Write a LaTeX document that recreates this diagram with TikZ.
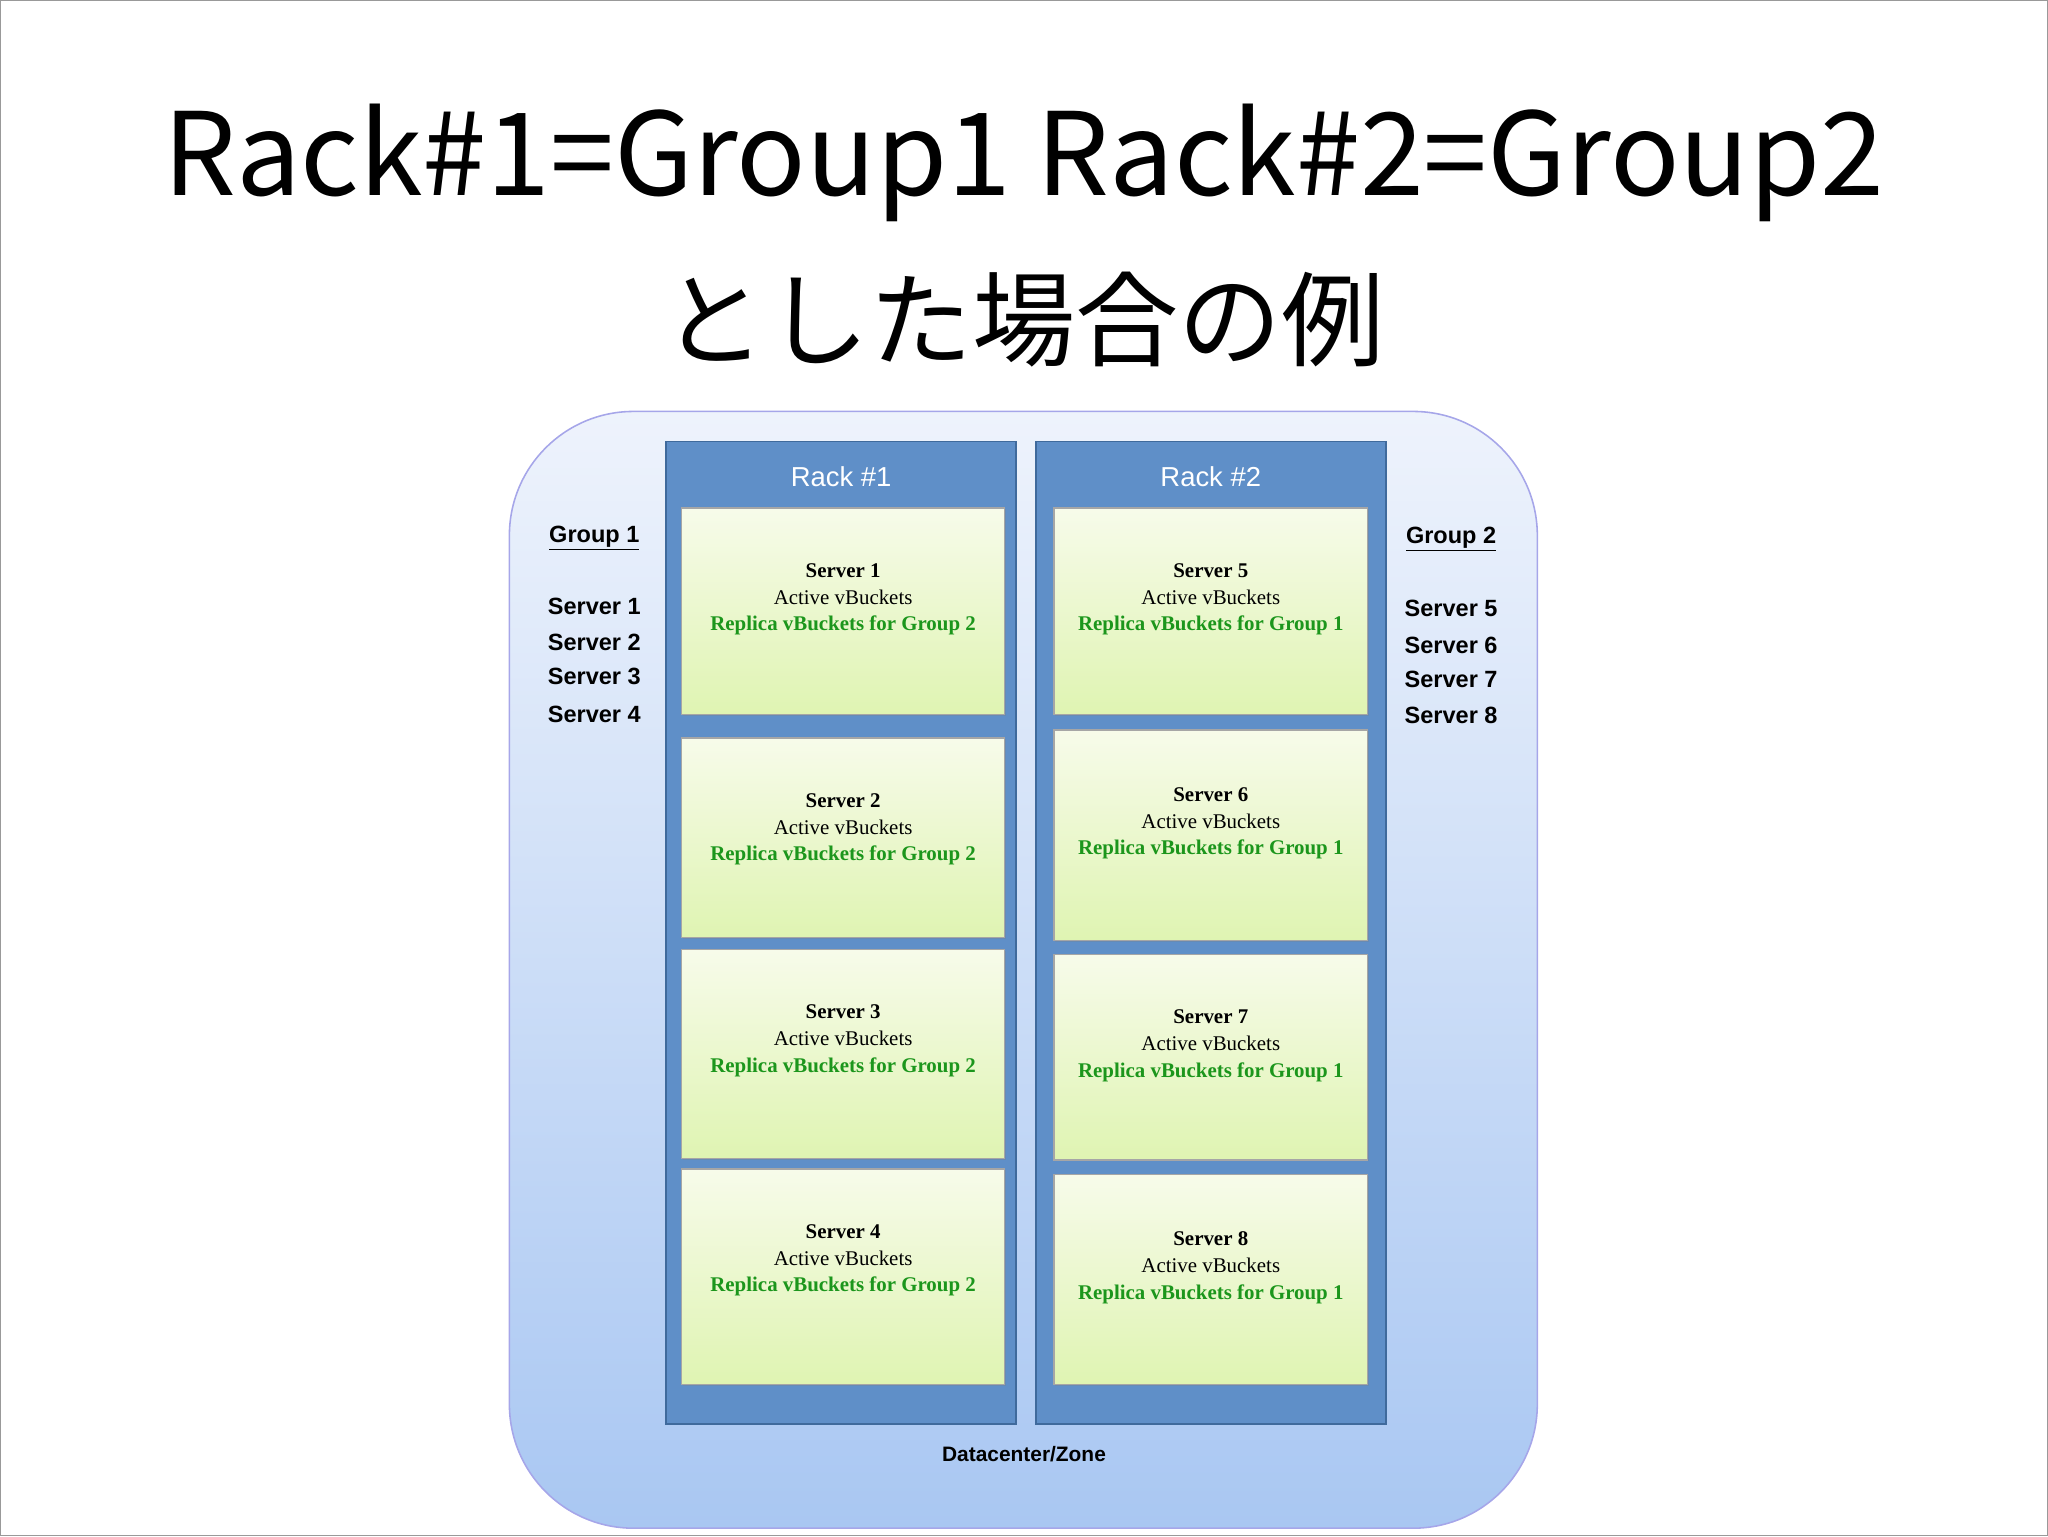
\documentclass[tikz,border=0pt]{standalone}
\usepackage{fontspec}
\setmainfont{Liberation Serif}
\newfontfamily\tfont{Noto Sans CJK JP}
\newfontfamily\sfont{Liberation Sans}
\usetikzlibrary{shadows}
\definecolor{rackc}{HTML}{5F8FC8}
\definecolor{rackb}{HTML}{3F6A9C}
\definecolor{gr}{HTML}{1C961C}
\definecolor{stop}{HTML}{F7FBEA}
\definecolor{sbot}{HTML}{DFF4B2}
\definecolor{otop}{HTML}{EEF3FC}
\definecolor{obot}{HTML}{A9C7F2}
\tikzset{
 rack/.style={draw=rackb,line width=1.5pt,fill=rackc},
 srv/.style={draw=black!35,line width=1pt,top color=stop,bottom color=sbot,drop shadow={shadow xshift=1pt,shadow yshift=-1pt,opacity=0.3}},
 lbl/.style={font=\sfont\bfseries\fontsize{18}{20}\selectfont,anchor=center},
 stxt/.style={align=center,font=\fontsize{16}{20.5}\selectfont},
}
\newcommand{\srvtext}[2]{\textbf{Server #1}\\Active vBuckets\\\textcolor{gr}{\textbf{Replica vBuckets for Group #2}}}
\begin{document}
\begin{tikzpicture}[x=1pt,y=-1pt]
\useasboundingbox (0,0) rectangle (1568,1176);
\draw[black!40,line width=1pt] (0.5,0.5) rectangle (1567.5,1175.5);
\node (t1) at (784,125) {\tfont\fontsize{88}{94}\selectfont Rack\#1=Group1 Rack\#2=Group2};
\node (t2) at (784,245) {\tfont\fontsize{79}{85}\selectfont とした場合の例};
\draw[draw=black!25!blue!35,line width=1.2pt,rounded corners=95,top color=otop,bottom color=obot] (390,315) rectangle (1177,1170);
\draw[rack] (510,338) rectangle (778,1090);
\draw[rack] (793,338) rectangle (1061,1090);
\node[text=white,font=\sfont\fontsize{21}{24}\selectfont] (r1) at (644,365) {Rack \#1};
\node[text=white,font=\sfont\fontsize{21}{24}\selectfont] (r2) at (927,365) {Rack \#2};
\foreach \n/\a/\b in {1/389/547,2/565/718,3/727/887,4/895/1060}{
  \draw[srv] (522,\a) rectangle (769,\b);
  \node[stxt] (s\n) at (645.5,{\a+70}) {\srvtext{\n}{2}};
}
\foreach \n/\a/\b in {5/389/547,6/559/720,7/731/888,8/899/1060}{
  \draw[srv] (807,\a) rectangle (1047,\b);
  \node[stxt] (s\n) at (927,{\a+70+(\b-\a-158)/2}) {\srvtext{\n}{1}};
}
\node[lbl] (g1) at (455,412) {\underline{Group 1}};
\foreach \n/\y in {1/464,2/492,3/518,4/547} \node[lbl] (l\n) at (455,\y) {Server \n};
\node[lbl] (g2) at (1111,413) {\underline{Group 2}};
\foreach \n/\y in {5/466,6/494,7/520,8/548} \node[lbl] (l\n) at (1111,\y) {Server \n};
\node[font=\sfont\bfseries\fontsize{16}{18}\selectfont] (dc) at (784,1113) {Datacenter/Zone};
\end{tikzpicture}
\end{document}
